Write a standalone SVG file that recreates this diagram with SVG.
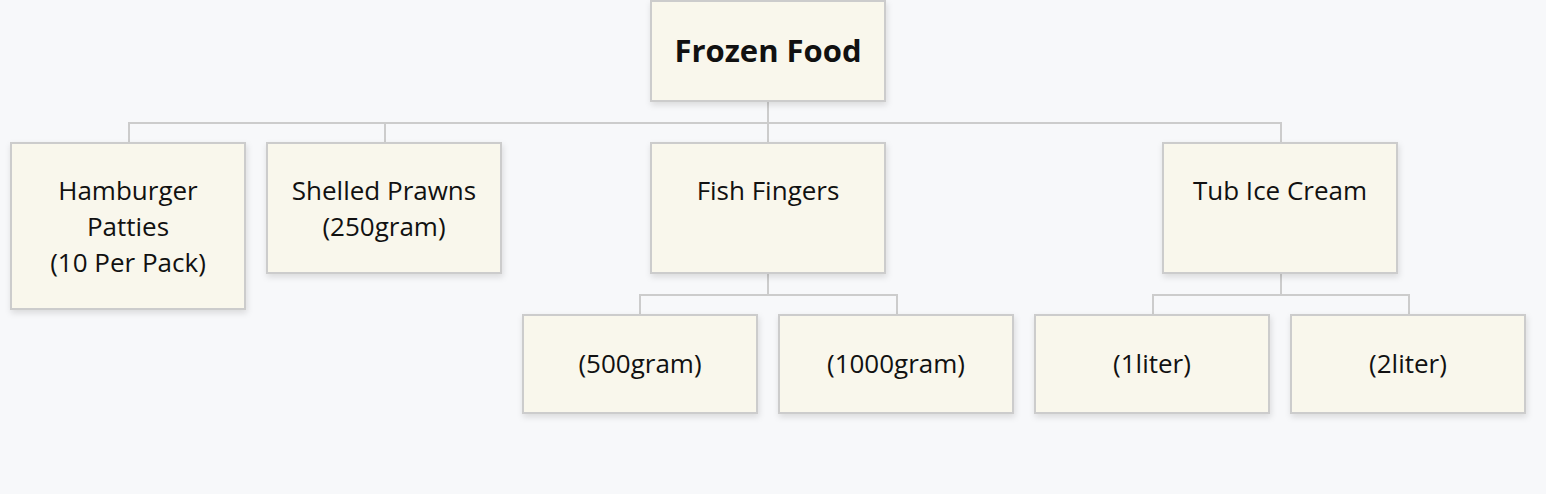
<svg xmlns="http://www.w3.org/2000/svg" width="1546" height="494" viewBox="0 0 1546 494">
<style>
.n rect{fill:#f9f7ec;stroke:#cccccc;stroke-width:2;filter:url(#sh)}
.n text{font-family:"Open Sans","Noto Sans",sans-serif;font-size:26px;fill:#111111;text-anchor:middle;dominant-baseline:central}
.n text.b{font-weight:bold;font-size:31px}
#edges path{fill:none;stroke:#cccccc;stroke-width:2}
</style>
<defs>
<filter id="sh" x="-10%" y="-10%" width="130%" height="140%">
<feDropShadow dx="1" dy="3" stdDeviation="3" flood-color="#000" flood-opacity="0.12"/>
</filter>
</defs>
<rect width="1546" height="494" fill="#f7f8fa"/>
<g id="edges">
<path d="M768 101V123M129 143V123H1281V143M385 123V143M768 123V143"/>
<path d="M768 273V295M640 315V295H897V315"/>
<path d="M1281 273V295M1153 315V295H1409V315"/>
</g>
<g id="root" class="n"><rect x="651" y="1" width="234" height="100"/><text class="b" x="768" y="50">Frozen Food</text></g>
<g id="hamburger" class="n"><rect x="11" y="143" width="234" height="166"/><text x="128" y="190">Hamburger</text><text x="128" y="226">Patties</text><text x="128" y="262">(10 Per Pack)</text></g>
<g id="prawns" class="n"><rect x="267" y="143" width="234" height="130"/><text x="384" y="190">Shelled Prawns</text><text x="384" y="226">(250gram)</text></g>
<g id="fish" class="n"><rect x="651" y="143" width="234" height="130"/><text x="768" y="190">Fish Fingers</text></g>
<g id="tub" class="n"><rect x="1163" y="143" width="234" height="130"/><text x="1280" y="190">Tub Ice Cream</text></g>
<g id="fish500" class="n"><rect x="523" y="315" width="234" height="98"/><text x="640" y="363">(500gram)</text></g>
<g id="fish1000" class="n"><rect x="779" y="315" width="234" height="98"/><text x="896" y="363">(1000gram)</text></g>
<g id="tub1" class="n"><rect x="1035" y="315" width="234" height="98"/><text x="1152" y="363">(1liter)</text></g>
<g id="tub2" class="n"><rect x="1291" y="315" width="234" height="98"/><text x="1408" y="363">(2liter)</text></g>
</svg>
